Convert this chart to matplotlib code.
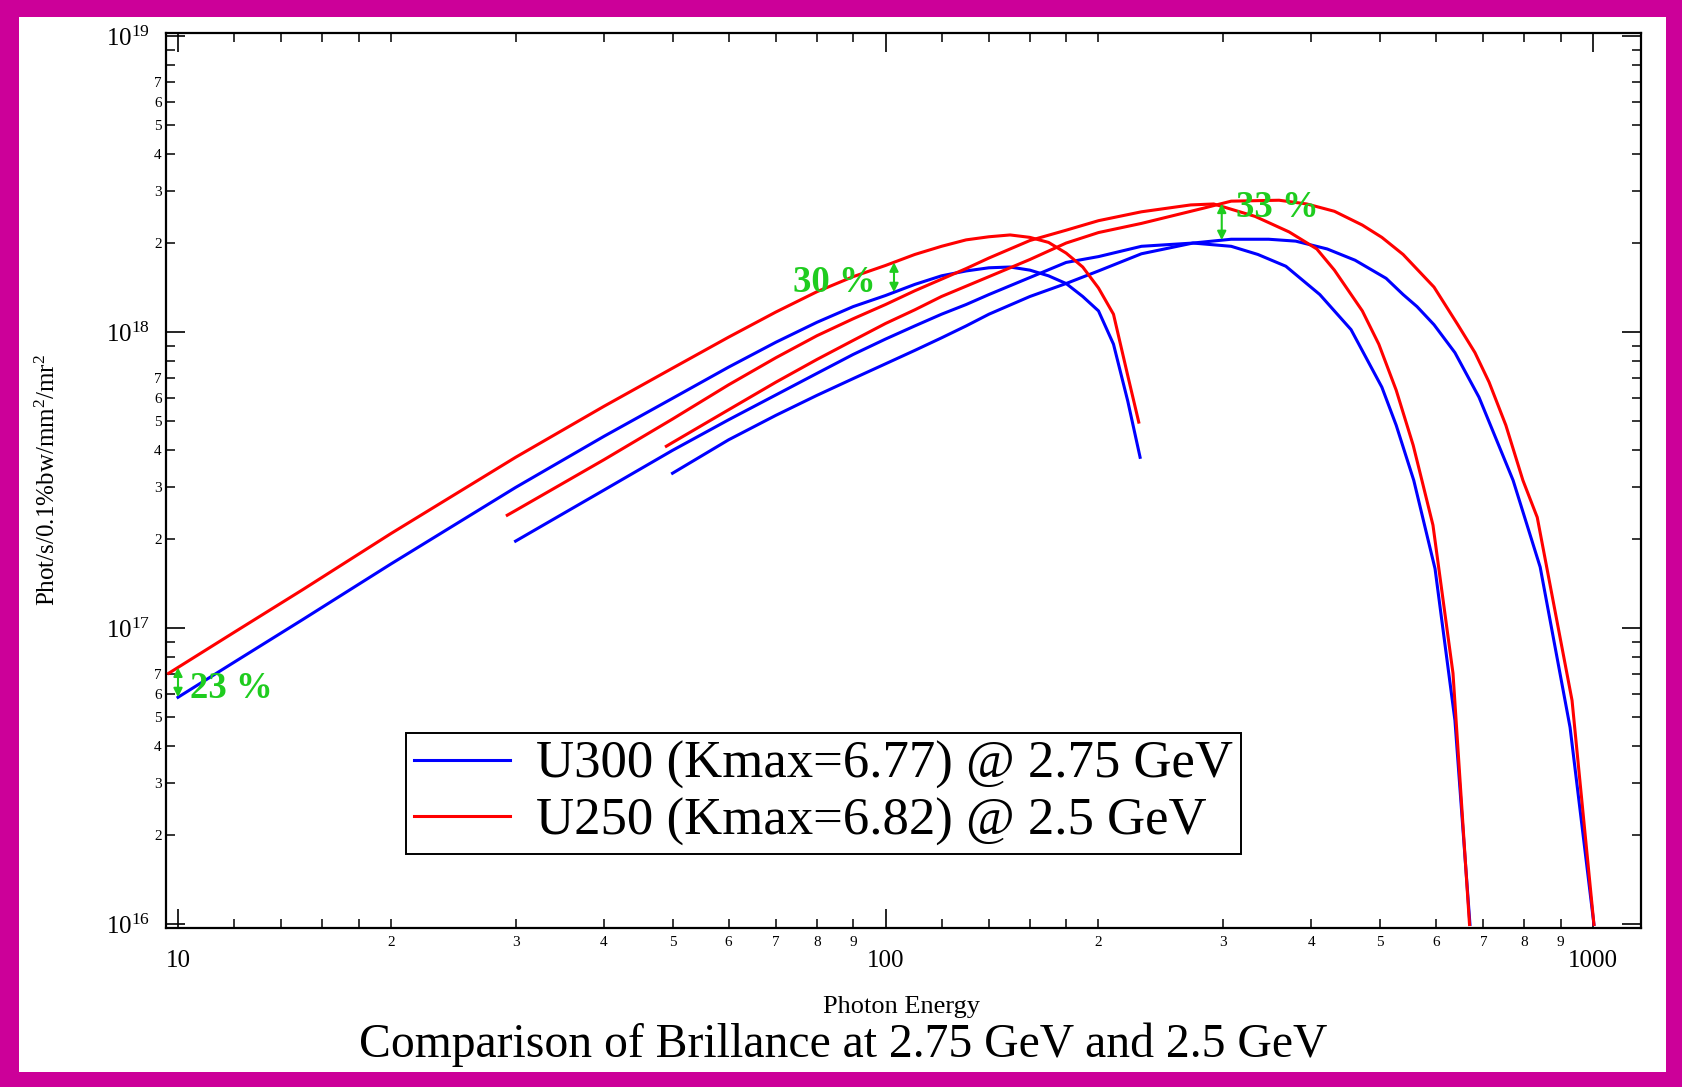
import numpy as np
import matplotlib
matplotlib.use("Agg")
import matplotlib.pyplot as plt
from matplotlib.ticker import LogLocator, FuncFormatter
from matplotlib.patches import Rectangle

plt.rcParams['font.family'] = ['Liberation Serif', 'DejaVu Serif']
plt.rcParams['mathtext.fontset'] = 'custom'
plt.rcParams['mathtext.rm'] = 'Liberation Serif'
plt.rcParams['mathtext.it'] = 'Liberation Serif:italic'
plt.rcParams['mathtext.bf'] = 'Liberation Serif:bold'

# ---------------- brilliance tuning curves (photon energy in eV) ----------------
# U300 (Kmax=6.77) @ 2.75 GeV
u300_h1_E = [10, 12, 15, 20, 30, 40, 50, 60, 70, 80, 90, 100, 110, 120, 130, 140,
             150, 160, 170, 180, 190, 200, 210, 220, 229]
u300_h1_B = [5.85e16, 7.68e16, 1.07e17, 1.65e17, 2.99e17, 4.45e17, 5.98e17, 7.62e17,
             9.25e17, 1.08e18, 1.22e18, 1.33e18, 1.45e18, 1.55e18, 1.61e18, 1.65e18,
             1.66e18, 1.62e18, 1.55e18, 1.46e18, 1.32e18, 1.18e18, 9.11e17, 5.85e17, 3.78e17]

u300_h3_E = [30, 40, 50, 60, 70, 80, 90, 100, 110, 120, 130, 140, 160, 180, 200, 230,
             272, 308, 336, 368, 411, 455, 503, 527, 558, 598, 638, 670]
u300_h3_B = [1.97e17, 2.93e17, 3.99e17, 5.06e17, 6.14e17, 7.26e17, 8.41e17, 9.48e17,
             1.05e18, 1.15e18, 1.24e18, 1.34e18, 1.53e18, 1.72e18, 1.80e18, 1.95e18,
             2.00e18, 1.95e18, 1.83e18, 1.67e18, 1.34e18, 1.02e18, 6.52e17, 4.85e17,
             3.16e17, 1.59e17, 4.89e16, 1.0e16]

u300_h5_E = [50, 60, 70, 80, 90, 100, 110, 120, 130, 140, 160, 180, 200, 230, 272, 308,
             348, 380, 421, 461, 510, 539, 564, 596, 638, 690, 771, 842, 928, 1003]
u300_h5_B = [3.34e17, 4.33e17, 5.24e17, 6.12e17, 6.97e17, 7.82e17, 8.68e17, 9.57e17,
             1.05e18, 1.15e18, 1.32e18, 1.46e18, 1.61e18, 1.84e18, 2.00e18, 2.06e18,
             2.06e18, 2.03e18, 1.91e18, 1.75e18, 1.52e18, 1.34e18, 1.22e18, 1.06e18,
             8.53e17, 6.03e17, 3.16e17, 1.61e17, 4.63e16, 1.0e16]

# U250 (Kmax=6.82) @ 2.5 GeV
u250_h1_E = [9.7, 12, 15, 20, 30, 40, 50, 60, 70, 80, 90, 100, 110, 120, 130, 140,
             150, 160, 170, 180, 190, 200, 210, 220, 228]
u250_h1_B = [7.05e16, 9.69e16, 1.35e17, 2.09e17, 3.78e17, 5.62e17, 7.56e17, 9.62e17,
             1.17e18, 1.37e18, 1.54e18, 1.68e18, 1.83e18, 1.95e18, 2.05e18, 2.10e18,
             2.13e18, 2.09e18, 2.01e18, 1.85e18, 1.66e18, 1.41e18, 1.15e18, 7.13e17, 4.97e17]

u250_h3_E = [29.2, 30, 40, 50, 60, 70, 80, 90, 100, 110, 120, 130, 140, 160, 180, 200,
             230, 270, 291, 333, 372, 407, 431, 472, 498, 527, 557, 573, 594, 634, 669]
u250_h3_B = [2.41e17, 2.50e17, 3.71e17, 5.09e17, 6.64e17, 8.20e17, 9.73e17, 1.11e18,
             1.24e18, 1.38e18, 1.51e18, 1.64e18, 1.78e18, 2.04e18, 2.21e18, 2.38e18,
             2.55e18, 2.69e18, 2.71e18, 2.46e18, 2.18e18, 1.91e18, 1.62e18, 1.18e18,
             9.11e17, 6.37e17, 4.15e17, 3.16e17, 2.23e17, 7.05e16, 1.0e16]

u250_h5_E = [49, 50, 60, 70, 80, 90, 100, 110, 120, 130, 140, 160, 180, 200, 230, 281,
             308, 360, 394, 431, 472, 503, 539, 596, 644, 681, 713, 753, 796, 834, 934, 1003]
u250_h5_B = [4.12e17, 4.24e17, 5.47e17, 6.78e17, 8.09e17, 9.38e17, 1.07e18, 1.19e18,
             1.32e18, 1.43e18, 1.54e18, 1.76e18, 2.00e18, 2.17e18, 2.33e18, 2.62e18,
             2.77e18, 2.79e18, 2.71e18, 2.56e18, 2.30e18, 2.09e18, 1.83e18, 1.42e18,
             1.06e18, 8.53e17, 6.78e17, 4.85e17, 3.16e17, 2.37e17, 5.71e16, 1.0e16]

labels = ['U300 (Kmax=6.77) @ 2.75 GeV', 'U250 (Kmax=6.82) @ 2.5 GeV']
colors = ['#0000ff', '#ff0000']

u300 = [(u300_h1_E, u300_h1_B), (u300_h3_E, u300_h3_B), (u300_h5_E, u300_h5_B)]
u250 = [(u250_h1_E, u250_h1_B), (u250_h3_E, u250_h3_B), (u250_h5_E, u250_h5_B)]

# gain markers: text, energy of the arrow, harmonic index, text anchor (E, B)
gain_text = ['23 %', '30 %', '33 %']
gain_energy = [10.0, 102.8, 298.7]
gain_harm = [0, 0, 2]
gain_text_E = [10.4, 74.0, 312.9]
gain_text_B = [5.80e16, 1.365e18, 2.456e18]
green = '#1fcc1f'


def loglog_interp(e, E, B):
    return 10 ** np.interp(np.log10(e), np.log10(E), np.log10(B))


# ---------------- figure ----------------
W, H = 1683, 1087
fig = plt.figure(figsize=(W / 100, H / 100), dpi=100)
fig.patch.set_facecolor('#cc0099')
fig.patches.append(Rectangle((19 / W, 15 / H), (1666 - 19) / W, (1072 - 17) / H,
                             transform=fig.transFigure, facecolor='white',
                             edgecolor='none', zorder=-5))

ax = fig.add_axes([166 / W, (H - 928) / H, (1641 - 166) / W, (928 - 33) / H])

for i, (E, B) in enumerate(u300):
    ax.plot(E, B, color=colors[0], lw=2.2, solid_joinstyle='round',
            label=labels[0] if i == 0 else None, zorder=3)
for i, (E, B) in enumerate(u250):
    ax.plot(E, B, color=colors[1], lw=2.2, solid_joinstyle='round',
            label=labels[1] if i == 0 else None, zorder=4)

ax.set_xscale('log')
ax.set_yscale('log')
ax.set_xlim(9.617, 1169)
ax.set_ylim(0.973e16, 1.024e19)

# gain arrows and texts
for txt, e, h, tx, ty in zip(gain_text, gain_energy, gain_harm, gain_text_E, gain_text_B):
    top = loglog_interp(e, *u250[h])
    bot = loglog_interp(e, *u300[h])
    ax.annotate('', xy=(e, bot), xytext=(e, top),
                arrowprops=dict(arrowstyle='<|-|>', color=green, lw=1.5,
                                mutation_scale=13, shrinkA=0, shrinkB=0), zorder=6)
    ax.text(tx, ty, txt, color=green, fontsize=26.5, fontweight='bold',
            ha='left', va='baseline', zorder=7)

# ticks
ax.xaxis.set_major_locator(LogLocator(base=10, subs=(1.0,), numticks=20))
ax.xaxis.set_minor_locator(LogLocator(base=10, subs=(1.2, 1.4, 1.6, 1.8, 2, 3, 4, 5, 6, 7, 8, 9),
                                      numticks=100))
ax.yaxis.set_major_locator(LogLocator(base=10, subs=(1.0,), numticks=20))
ax.yaxis.set_minor_locator(LogLocator(base=10, subs=(2, 3, 4, 5, 6, 7, 8, 9), numticks=100))


def minor_fmt(maxdigit):
    def f(v, pos):
        m = v / 10 ** np.floor(np.log10(v) + 1e-9)
        r = round(m)
        if abs(m - r) < 1e-6 and 2 <= r <= maxdigit:
            return '%d' % r
        return ''
    return FuncFormatter(f)


ax.xaxis.set_major_formatter(FuncFormatter(lambda v, p: '%d' % round(v)))
ax.xaxis.set_minor_formatter(minor_fmt(9))
ax.yaxis.set_major_formatter(FuncFormatter(
    lambda v, p: r'$\mathregular{10^{%d}}$' % round(np.log10(v))))
ax.yaxis.set_minor_formatter(minor_fmt(7))

ax.tick_params(which='both', direction='in', top=True, right=True, color='black')
ax.tick_params(which='major', length=14, width=1.2)
ax.tick_params(which='minor', length=6.5, width=1.1)
ax.tick_params(axis='x', which='major', labelsize=18, pad=16)
ax.tick_params(axis='x', which='minor', labelsize=11, pad=5.5)
ax.tick_params(axis='y', which='major', labelsize=18, pad=11.5)
ax.tick_params(axis='y', which='minor', labelsize=11, pad=3)
for s in ax.spines.values():
    s.set_linewidth(1.6)

leg = ax.legend(loc='lower left', bbox_to_anchor=(0.1627, 0.0827), borderaxespad=0,
                fontsize=38, handlelength=1.83, handletextpad=0.49, borderpad=0.15,
                labelspacing=0.16, fancybox=False, framealpha=1, edgecolor='black')
leg.get_frame().set_linewidth(1.4)
for ln in leg.get_lines():
    ln.set_linewidth(2.2)

fig.text(901.6 / W, (H - 1013) / H, 'Photon Energy', fontsize=19,
         ha='center', va='baseline')
fig.text(48 / W, (H - 480) / H, r'Phot/s/0.1%bw/mm$^{\mathregular{2}}$/mr$^{\mathregular{2}}$',
         fontsize=18, rotation=90, ha='center', va='center')
fig.text(843 / W, (H - 1057) / H, 'Comparison of Brillance at 2.75 GeV and 2.5 GeV',
         fontsize=34.3, ha='center', va='baseline')

fig.savefig('out.png', dpi=100, facecolor=fig.get_facecolor())
